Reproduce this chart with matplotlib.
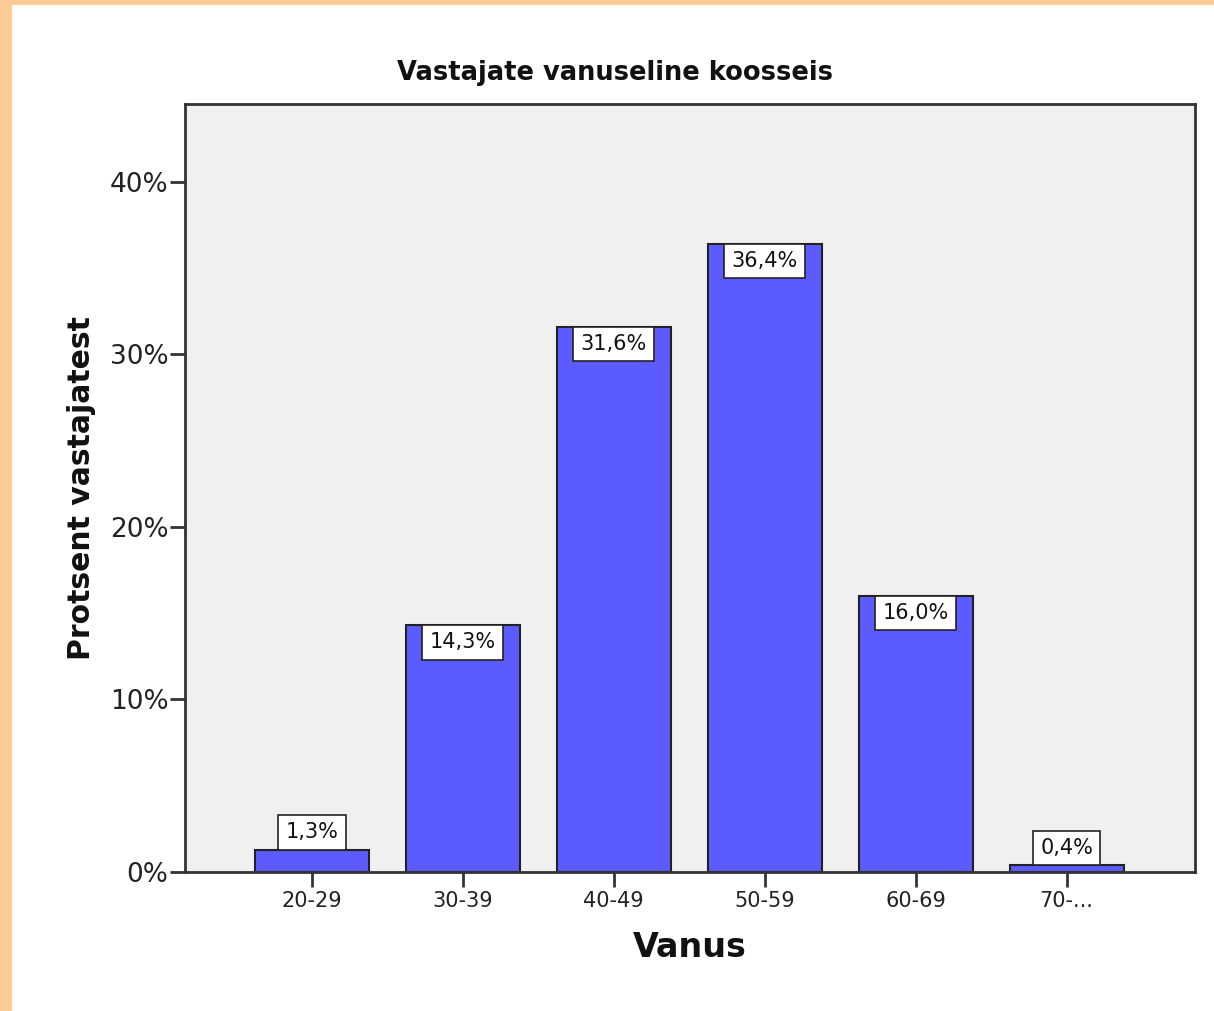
import matplotlib.pyplot as plt
from matplotlib.patches import Rectangle

# data
age_groups = ["20-29", "30-39", "40-49", "50-59", "60-69", "70-..."]
percent = [1.3, 14.3, 31.6, 36.4, 16.0, 0.4]
y_ticks = [0, 10, 20, 30, 40]

bar_color = '#5B5BFF'
bg_color = '#F0F0F0'
frame_color = '#FFCA96'

fig = plt.figure(figsize=(12.14, 10.11), dpi=100)
fig.patch.set_facecolor('white')

# orange frame on top and left edge
fig.patches.append(Rectangle((0, 1 - 5 / 1011), 1, 5 / 1011, transform=fig.transFigure,
                             facecolor=frame_color, edgecolor='none', zorder=0))
fig.patches.append(Rectangle((0, 0), 12 / 1214, 1, transform=fig.transFigure,
                             facecolor=frame_color, edgecolor='none', zorder=0))

ax = fig.add_axes([185 / 1214, 139 / 1011, 1010 / 1214, 768 / 1011])
ax.set_facecolor(bg_color)

x = list(range(len(age_groups)))
ax.bar(x, percent, width=0.755, color=bar_color, edgecolor='#222222', linewidth=1.5, zorder=2)

ax.set_xlim(-0.84, 5.85)
ax.set_ylim(0, 44.5)
ax.set_yticks(y_ticks)
ax.set_yticklabels([f"{t}%" for t in y_ticks], fontsize=19, color='#222222')
ax.set_xticks(x)
ax.set_xticklabels(age_groups, fontsize=15, color='#222222')
ax.tick_params(axis='both', direction='out', length=11, width=2, color='#333333')
ax.tick_params(axis='y', pad=1)
ax.tick_params(axis='x', pad=3)

for side in ['left', 'bottom', 'top', 'right']:
    ax.spines[side].set_color('#333333')
    ax.spines[side].set_linewidth(2)

# value labels: inside the top of tall bars, on top of short ones
pad = 0.35
fs = 15
for i, v in enumerate(percent):
    label = f"{v:.1f}%".replace('.', ',')
    inside = v > 5
    ax.annotate(label, xy=(i, v), xytext=(0, -pad * fs if inside else pad * fs),
                textcoords='offset points', ha='center',
                va='top' if inside else 'bottom', fontsize=fs, color='#111111', zorder=3,
                bbox=dict(boxstyle=f'square,pad={pad}', facecolor='white',
                          edgecolor='#222222', linewidth=1.2))

fig.text(0.507, 1 - 73 / 1011, "Vastajate vanuseline koosseis", ha='center', va='center',
         fontsize=18.5, fontweight='bold', color='#111111')
ax.set_xlabel("Vanus", fontsize=24, fontweight='bold', labelpad=14, color='#111111')
ax.set_ylabel("Protsent vastajatest", fontsize=21.5, fontweight='bold', labelpad=10, color='#111111')

plt.savefig('out.png', dpi=100)
